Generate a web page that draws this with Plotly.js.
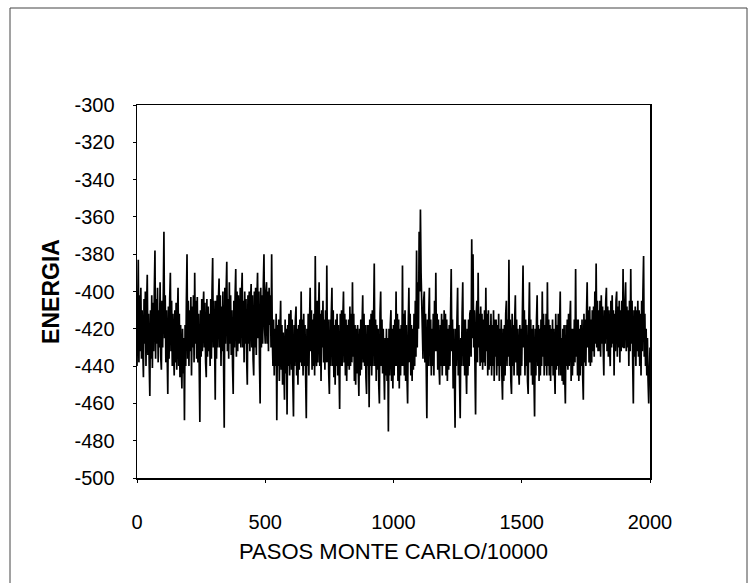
<!DOCTYPE html>
<html>
<head>
<meta charset="utf-8">
<script src="https://cdn.plot.ly/plotly-3.0.1.min.js"></script>
<style>
  html, body { margin: 0; padding: 0; background: #ffffff; }
  #chart { width: 752px; height: 583px; }
</style>
</head>
<body>
<div id="chart"></div>
<script>
// Monte Carlo step sampling interval (in units of 10000 steps)
var pasoIntervalo = 2.5;

var energia = [
  // 0 - 97.5
  -440, -405, -383, -438, -402, -432, -398, -436, -410, -430,
  -446, -404, -428, -400, -440, -408, -391, -434, -412, -438,
  -456, -410, -436, -402, -441, -406, -432, -400, -378, -436,
  -404, -428, -398, -438, -410, -430, -395, -435, -442, -405,
  // 100 - 197.5
  -430, -402, -368, -425, -402, -438, -410, -432, -455, -408,
  -436, -404, -390, -432, -405, -440, -412, -430, -445, -410,
  -438, -406, -442, -415, -398, -440, -412, -446, -418, -438,
  -452, -420, -444, -425, -469, -418, -440, -405, -380, -436,
  // 200 - 297.5
  -405, -440, -410, -432, -403, -445, -408, -430, -402, -438,
  -390, -428, -405, -436, -403, -438, -412, -440, -470, -410,
  -435, -404, -432, -410, -400, -430, -406, -438, -446, -404,
  -435, -408, -432, -412, -440, -404, -436, -400, -382, -430,
  // 300 - 397.5
  -405, -425, -458, -405, -436, -402, -430, -404, -393, -430,
  -402, -440, -408, -432, -400, -438, -473, -398, -428, -400,
  -384, -432, -404, -436, -395, -428, -402, -434, -410, -440,
  -455, -405, -430, -402, -388, -435, -400, -432, -402, -428,
  // 400 - 497.5
  -425, -398, -430, -402, -390, -430, -405, -438, -400, -428,
  -404, -436, -450, -402, -428, -400, -432, -406, -396, -430,
  -402, -436, -445, -400, -430, -398, -434, -404, -390, -425,
  -400, -438, -460, -398, -430, -402, -428, -396, -380, -420,
  // 500 - 597.5
  -428, -400, -395, -428, -400, -432, -398, -418, -402, -430,
  -380, -425, -440, -415, -445, -420, -440, -412, -469, -418,
  -440, -415, -448, -420, -405, -442, -418, -450, -422, -440,
  -458, -415, -444, -420, -466, -418, -440, -412, -445, -415,
  // 600 - 697.5
  -410, -442, -415, -448, -467, -418, -440, -415, -408, -445,
  -420, -450, -418, -442, -415, -438, -400, -440, -415, -445,
  -412, -440, -418, -446, -468, -420, -440, -412, -445, -418,
  -398, -432, -410, -442, -415, -440, -412, -445, -381, -430,
  // 700 - 797.5
  -440, -405, -438, -412, -395, -440, -412, -448, -410, -430,
  -405, -438, -415, -442, -410, -438, -386, -438, -415, -444,
  -455, -415, -440, -412, -398, -440, -410, -446, -418, -450,
  -415, -440, -412, -445, -418, -440, -463, -412, -440, -410,
  // 800 - 897.5
  -440, -415, -400, -438, -412, -445, -415, -448, -418, -440,
  -415, -442, -408, -440, -412, -438, -395, -435, -412, -448,
  -418, -450, -420, -444, -418, -440, -456, -420, -445, -415,
  -442, -418, -402, -438, -412, -440, -418, -446, -455, -418,
  // 900 - 997.5
  -440, -418, -462, -415, -440, -412, -445, -410, -440, -415,
  -385, -440, -415, -448, -418, -442, -420, -450, -460, -412,
  -400, -440, -415, -444, -420, -440, -458, -425, -445, -420,
  -448, -425, -475, -420, -445, -418, -410, -448, -420, -452,
  // 1000 - 1097.5
  -418, -445, -415, -440, -400, -440, -412, -448, -415, -452,
  -420, -445, -418, -440, -386, -440, -412, -445, -410, -448,
  -418, -445, -460, -418, -398, -438, -412, -445, -418, -448,
  -420, -442, -412, -440, -405, -435, -378, -430, -395, -420,
  // 1100 - 1197.5
  -368, -400, -356, -390, -410, -432, -436, -405, -400, -438,
  -412, -440, -468, -415, -440, -412, -398, -440, -415, -445,
  -420, -440, -412, -445, -405, -432, -390, -432, -412, -442,
  -415, -440, -450, -418, -440, -412, -445, -415, -440, -410,
  // 1200 - 1297.5
  -440, -412, -445, -415, -448, -420, -442, -418, -440, -412,
  -388, -432, -415, -452, -420, -445, -473, -420, -440, -415,
  -398, -445, -418, -448, -468, -425, -440, -412, -395, -440,
  -415, -445, -415, -440, -455, -420, -445, -415, -440, -412,
  // 1300 - 1397.5
  -410, -435, -372, -425, -380, -430, -410, -440, -466, -412,
  -405, -438, -390, -430, -412, -440, -408, -438, -412, -442,
  -415, -438, -410, -440, -398, -432, -412, -445, -410, -442,
  -418, -440, -412, -445, -418, -440, -410, -448, -415, -435,
  // 1400 - 1497.5
  -415, -445, -418, -440, -412, -448, -420, -440, -415, -445,
  -458, -420, -448, -418, -445, -412, -405, -440, -415, -435,
  -383, -440, -415, -448, -455, -412, -440, -418, -445, -415,
  -402, -438, -415, -445, -420, -440, -450, -418, -445, -420,
  // 1500 - 1597.5
  -440, -412, -386, -430, -410, -445, -415, -440, -418, -448,
  -455, -418, -395, -438, -415, -445, -420, -450, -418, -445,
  -467, -420, -445, -415, -402, -440, -418, -448, -420, -445,
  -415, -440, -400, -435, -412, -445, -418, -440, -412, -445,
  // 1600 - 1697.5
  -395, -440, -415, -445, -418, -448, -420, -440, -415, -445,
  -420, -442, -455, -412, -442, -418, -440, -412, -445, -418,
  -400, -445, -425, -448, -420, -450, -418, -445, -460, -418,
  -440, -415, -442, -412, -440, -415, -405, -448, -420, -445,
  // 1700 - 1797.5
  -420, -440, -415, -438, -388, -435, -415, -445, -415, -448,
  -420, -445, -418, -440, -415, -445, -458, -412, -438, -415,
  -440, -412, -395, -430, -410, -438, -408, -440, -415, -438,
  -410, -432, -408, -435, -400, -428, -385, -430, -405, -432,
  // 1800 - 1897.5
  -410, -432, -405, -435, -402, -428, -408, -430, -445, -410,
  -428, -405, -398, -432, -408, -435, -410, -430, -440, -405,
  -430, -402, -428, -410, -445, -412, -432, -405, -400, -435,
  -408, -430, -405, -438, -410, -432, -405, -430, -388, -430,
  // 1900 - 2000
  -430, -405, -395, -432, -408, -430, -410, -440, -405, -432,
  -388, -428, -405, -438, -460, -410, -435, -408, -440, -410,
  -432, -405, -435, -410, -440, -412, -445, -405, -432, -400,
  -381, -435, -412, -440, -420, -445, -425, -448, -460, -445,
  -430
];

var pasos = energia.map(function (v, i) { return i * pasoIntervalo; });

// Axis ticks
var yTickVals = [-300, -320, -340, -360, -380, -400, -420, -440, -460, -480, -500];
var yTickText = ["-300", "-320", "-340", "-360", "-380", "-400", "-420", "-440", "-460", "-480", "-500"];
var xTickVals = [0, 500, 1000, 1500, 2000];
var xTickText = ["0", "500", "1000", "1500", "2000"];

var FONT = "Liberation Sans, Arial, sans-serif";

var trace = {
  x: pasos,
  y: energia,
  type: "scatter",
  mode: "lines",
  line: { color: "#000000", width: 1.7 },
  hoverinfo: "x+y"
};

var layout = {
  width: 752,
  height: 583,
  margin: { l: 137, r: 102, t: 105, b: 105 },
  paper_bgcolor: "#ffffff",
  plot_bgcolor: "#ffffff",
  showlegend: false,
  font: { family: FONT, color: "#000000", size: 20 },
  xaxis: {
    range: [0, 2000],
    tickmode: "array",
    tickvals: xTickVals,
    ticktext: xTickText,
    ticks: "outside",
    ticklen: 3,
    tickcolor: "#000",
    ticklabelstandoff: 22,
    showgrid: false,
    zeroline: false,
    showline: true,
    mirror: true,
    linecolor: "#000000",
    linewidth: 1.5,
    tickfont: { family: FONT, size: 20, color: "#000" },
    title: {
      text: "PASOS MONTE CARLO/10000",
      font: { family: FONT, size: 22, color: "#000" },
      standoff: 12
    }
  },
  yaxis: {
    range: [-500, -300],
    tickmode: "array",
    tickvals: yTickVals,
    ticktext: yTickText,
    ticks: "outside",
    ticklen: 3,
    tickcolor: "#000",
    ticklabelstandoff: 14,
    showgrid: false,
    zeroline: false,
    showline: true,
    mirror: true,
    linecolor: "#000000",
    linewidth: 1.5,
    tickfont: { family: FONT, size: 20, color: "#000" },
    title: {
      text: "<b>ENERGIA</b>",
      font: { family: FONT, size: 23, color: "#000" },
      standoff: 8
    }
  },
  shapes: [
    {
      type: "rect",
      xref: "paper", yref: "paper",
      x0: (10 - 137) / 513, x1: (747 - 137) / 513,
      y0: (478 - 590) / 373, y1: (478 - 8) / 373,
      line: { color: "#444444", width: 1 },
      fillcolor: "rgba(0,0,0,0)",
      layer: "below"
    }
  ]
};

Plotly.newPlot("chart", [trace], layout, { displayModeBar: false, staticPlot: true });
</script>
</body>
</html>
